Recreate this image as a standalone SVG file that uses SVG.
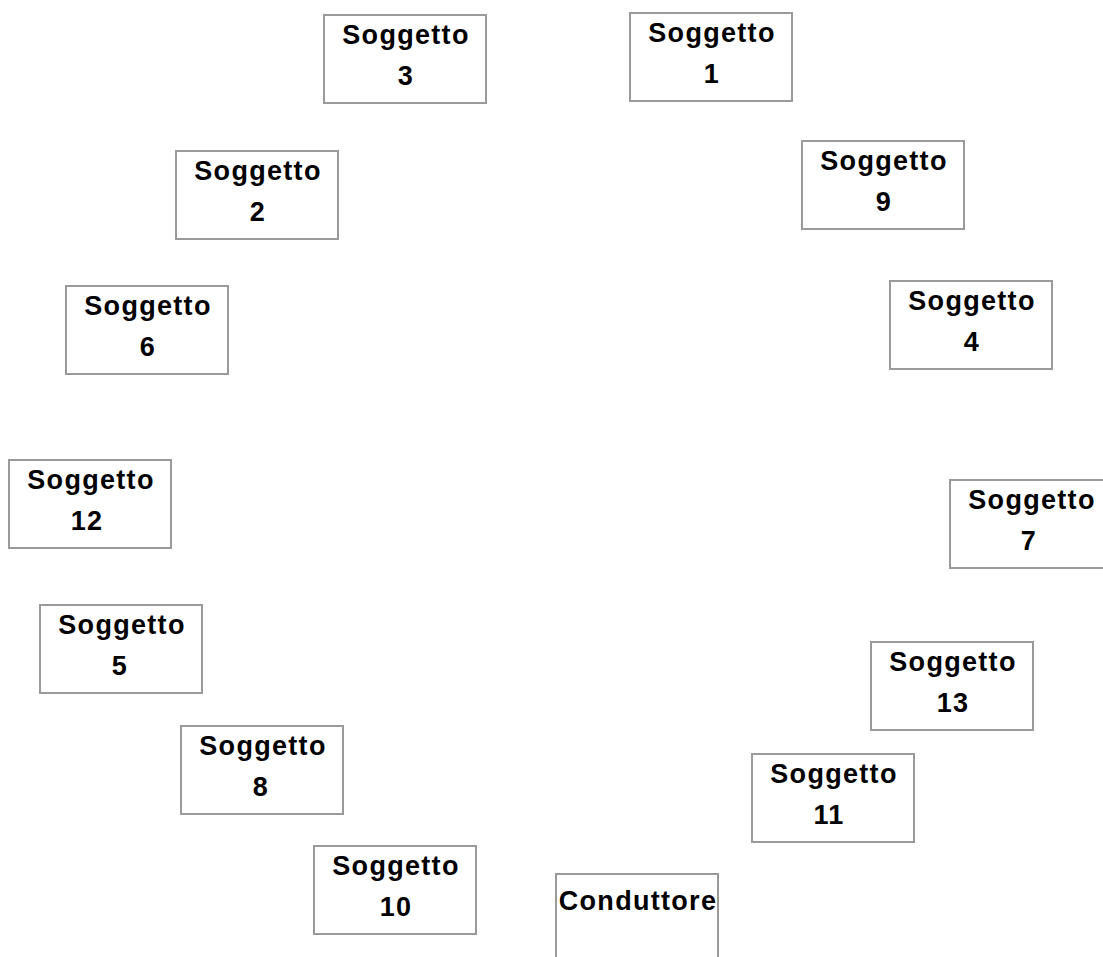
<svg xmlns="http://www.w3.org/2000/svg" width="1103" height="957" viewBox="0 0 1103 957">
<style>
.box{fill:#fff;stroke:#9a9a9a;stroke-width:2}
.t{font-family:"Liberation Sans",Arial,sans-serif;font-weight:bold;font-size:27px;letter-spacing:1.3px;fill:#000;text-anchor:middle}
</style>
<rect width="1103" height="957" fill="#fff"/>
<g id="connectors"></g>
<g id="n3"><rect class="box" x="324" y="15" width="162" height="88"/><text class="t" x="406" y="44">Soggetto</text><text class="t" x="406" y="85">3</text></g>
<g id="n1"><rect class="box" x="630" y="13" width="162" height="88"/><text class="t" x="712" y="42">Soggetto</text><text class="t" x="712" y="83">1</text></g>
<g id="n9"><rect class="box" x="802" y="141" width="162" height="88"/><text class="t" x="884" y="170">Soggetto</text><text class="t" x="884" y="211">9</text></g>
<g id="n2"><rect class="box" x="176" y="151" width="162" height="88"/><text class="t" x="258" y="180">Soggetto</text><text class="t" x="258" y="221">2</text></g>
<g id="n4"><rect class="box" x="890" y="281" width="162" height="88"/><text class="t" x="972" y="310">Soggetto</text><text class="t" x="972" y="351">4</text></g>
<g id="n6"><rect class="box" x="66" y="286" width="162" height="88"/><text class="t" x="148" y="315">Soggetto</text><text class="t" x="148" y="356">6</text></g>
<g id="n12"><rect class="box" x="9" y="460" width="162" height="88"/><text class="t" x="91" y="489">Soggetto</text><text class="t" x="87" y="530">12</text></g>
<g id="n7"><rect class="box" x="950" y="480" width="162" height="88"/><text class="t" x="1032" y="509">Soggetto</text><text class="t" x="1029" y="550">7</text></g>
<g id="n5"><rect class="box" x="40" y="605" width="162" height="88"/><text class="t" x="122" y="634">Soggetto</text><text class="t" x="120" y="675">5</text></g>
<g id="n13"><rect class="box" x="871" y="642" width="162" height="88"/><text class="t" x="953" y="671">Soggetto</text><text class="t" x="953" y="712">13</text></g>
<g id="n8"><rect class="box" x="181" y="726" width="162" height="88"/><text class="t" x="263" y="755">Soggetto</text><text class="t" x="261" y="796">8</text></g>
<g id="n11"><rect class="box" x="752" y="754" width="162" height="88"/><text class="t" x="834" y="783">Soggetto</text><text class="t" x="829" y="824">11</text></g>
<g id="n10"><rect class="box" x="314" y="846" width="162" height="88"/><text class="t" x="396" y="875">Soggetto</text><text class="t" x="396" y="916">10</text></g>
<g id="conduttore"><rect class="box" x="556" y="874" width="162" height="88"/><text class="t" x="638" y="910">Conduttore</text></g>
</svg>
